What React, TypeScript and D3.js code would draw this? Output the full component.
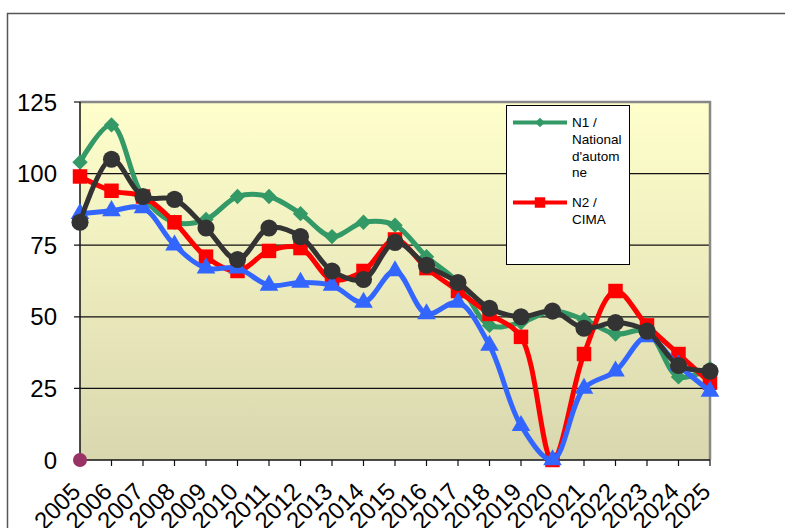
import React from 'react'
import * as d3 from 'd3'

// chart values
const years = [2005, 2006, 2007, 2008, 2009, 2010, 2011, 2012, 2013, 2014, 2015,
  2016, 2017, 2018, 2019, 2020, 2021, 2022, 2023, 2024, 2025]
const national = [104, 117, 92, 83, 84, 92, 92, 86, 78, 83, 82, 71, 62, 47, 48, 52, 49, 44, 45, 29, 32]
const cima = [99, 94, 92, 83, 71, 66, 73, 74, 63, 66, 77, 67, 59, 51, 43, 0, 37, 59, 47, 37, 27]
const blueSeries = [86, 87, 88, 75, 67, 67, 61, 62, 61, 55, 66, 51, 55, 40, 12, 0, 25, 31, 43, 33, 24]
const blackSeries = [83, 105, 92, 91, 81, 70, 81, 78, 66, 63, 76, 68, 62, 53, 50, 52, 46, 48, 45, 33, 31]
const extraSeries = [0]
const yTicks = [0, 25, 50, 75, 100, 125]

const legendItems = [
  { lines: ['N1 /', 'National', "d'autom", 'ne'], color: '#339966', marker: 'diamond' },
  { lines: ['N2 /', 'CIMA'], color: '#ff0000', marker: 'square' },
]

const W = 785
const H = 528
const plot = { left: 80, right: 710, top: 102, bottom: 460 }
const font = '"Liberation Sans", Arial, sans-serif'

const x = d3.scaleLinear().domain([2005, 2025]).range([plot.left, plot.right])
const y = d3.scaleLinear().domain([0, 125]).range([plot.bottom, plot.top])

const symbolPath = (kind: string, size: number) => {
  const t = kind === 'diamond' ? d3.symbolDiamond2
    : kind === 'square' ? d3.symbolSquare
    : kind === 'triangle' ? d3.symbolTriangle
    : d3.symbolCircle
  return d3.symbol().type(t).size(size)() as string
}

const series = [
  { values: national, color: '#339966', marker: 'diamond', size: 150 },
  { values: cima, color: '#ff0000', marker: 'square', size: 210 },
  { values: blueSeries, color: '#3366ff', marker: 'triangle', size: 150 },
  { values: blackSeries, color: '#333333', marker: 'circle', size: 230 },
]

const line = d3.line<number>()
  .x((_, i) => x(years[i]))
  .y(v => y(v))
  .curve(d3.curveCatmullRom.alpha(0.5))

export default function App() {
  return (
    <svg width={W} height={H} style={{ position: 'absolute', left: 0, top: 0, background: '#fff' }}
      fontFamily={font}>
      <defs>
        <linearGradient id="bg" x1="0" y1="0" x2="0" y2="1">
          <stop offset="0" stopColor="#ffffcc" />
          <stop offset="1" stopColor="#d9d7ae" />
        </linearGradient>
      </defs>

      {/* outer frame */}
      <path d={`M7.5,${H} V13.5 H${W}`} fill="none" stroke="#555" strokeWidth={1.5} />

      {/* plot area */}
      <rect x={plot.left} y={plot.top} width={plot.right - plot.left} height={plot.bottom - plot.top}
        fill="url(#bg)" />

      {/* grid + y ticks */}
      {yTicks.map(t => (
        <g key={t}>
          {t > 0 && t < 125 && (
            <line x1={plot.left - 6} x2={plot.right} y1={y(t)} y2={y(t)} stroke="#111" strokeWidth={1.2} />
          )}
          {(t === 0 || t === 125) && (
            <line x1={plot.left - 6} x2={plot.left} y1={y(t)} y2={y(t)} stroke="#111" strokeWidth={1.2} />
          )}
          <text x={57} y={y(t)} dy="0.36em" textAnchor="end" fontSize={24} fill="#000">{t}</text>
        </g>
      ))}

      {/* plot border top/right */}
      <path d={`M${plot.left},${plot.top} H${plot.right} V${plot.bottom}`} fill="none" stroke="#888" strokeWidth={2.5} />
      {/* axes */}
      <line x1={plot.left} x2={plot.left} y1={plot.top} y2={plot.bottom} stroke="#111" strokeWidth={1.5} />
      <line x1={plot.left} x2={plot.right} y1={plot.bottom} y2={plot.bottom} stroke="#111" strokeWidth={1.5} />
      {years.map(yr => (
        <g key={yr}>
          <line x1={x(yr)} x2={x(yr)} y1={plot.bottom} y2={plot.bottom + 6} stroke="#111" strokeWidth={1.2} />
          <text transform={`translate(${x(yr) + 2},${plot.bottom + 33}) rotate(-45)`}
            textAnchor="end" fontSize={24} fill="#000">{yr}</text>
        </g>
      ))}

      {/* series */}
      {series.map((s, si) => (
        <g key={si}>
          <path d={line(s.values) as string} fill="none" stroke={s.color} strokeWidth={5}
            strokeLinejoin="round" strokeLinecap="round" />
          {s.values.map((v, i) => (
            <path key={i} d={symbolPath(s.marker, s.size)}
              transform={`translate(${x(years[i])},${y(v)})`} fill={s.color} />
          ))}
        </g>
      ))}
      {extraSeries.map((v, i) => (
        <circle key={i} cx={x(years[i])} cy={y(v)} r={7} fill="#993366" />
      ))}

      {/* legend */}
      <g>
        <rect x={506.5} y={105.5} width={123} height={159} fill="#fff" stroke="#000" strokeWidth={1} />
        {legendItems.map((item, k) => {
          const top = k === 0 ? 122.5 : 202.5
          return (
            <g key={k}>
              <line x1={513} x2={567} y1={top} y2={top} stroke={item.color} strokeWidth={4} />
              <path d={symbolPath(item.marker, item.marker === 'square' ? 110 : 60)}
                transform={`translate(540,${top})`} fill={item.color} />
              {item.lines.map((ln, j) => (
                <text key={j} x={572} y={top + j * 16.6} dy="0.36em" fontSize={13.5} fill="#000">{ln}</text>
              ))}
            </g>
          )
        })}
      </g>
    </svg>
  )
}
